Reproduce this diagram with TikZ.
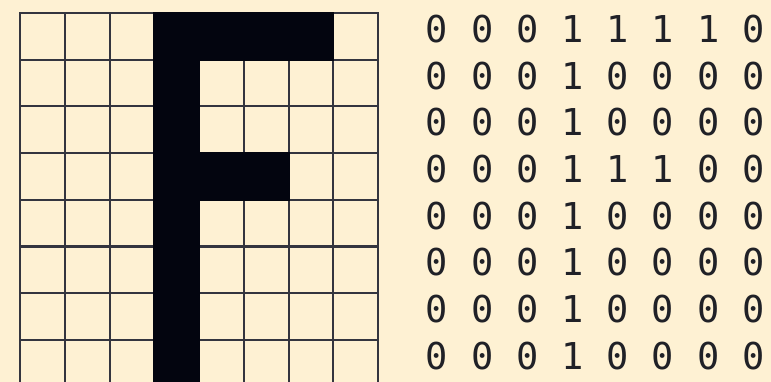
\documentclass[tikz,border=0pt]{standalone}
\usepackage{fontspec}
\setmonofont[RawFeature=+zero]{DejaVu Sans Mono}
\definecolor{paperBg}{HTML}{FEF1D3}
\definecolor{inkBlack}{HTML}{03050F}
\definecolor{gridGray}{HTML}{34353F}
\definecolor{digitInk}{HTML}{202127}

\begin{document}
\begin{tikzpicture}[
  x=1pt, y=-1pt,
  gridline/.style={draw=gridGray, line width=2pt, line cap=rect},
  pixel/.style={fill=inkBlack},
  bit/.style={font=\ttfamily\fontsize{37}{40}\selectfont, text=digitInk, inner sep=0pt, anchor=center},
]

% ===== Paper ================================================================
\fill[paperBg] (0,0) rectangle (771,382);
\useasboundingbox (0,0) rectangle (771,382);

% ===== 8x8 grid =============================================================
\foreach \k in {0,...,8} {
  \draw[gridline] ({20+44.75*\k},13) -- ({20+44.75*\k},392);
  \draw[gridline] (20,{13+46.7*\k}) -- (378,{13+46.7*\k});
}

% ===== Pixels and bit matrix ================================================
\foreach \row [count=\i from 0] in {{0,0,0,1,1,1,1,0},{0,0,0,1,0,0,0,0},
                                    {0,0,0,1,0,0,0,0},{0,0,0,1,1,1,0,0},
                                    {0,0,0,1,0,0,0,0},{0,0,0,1,0,0,0,0},
                                    {0,0,0,1,0,0,0,0},{0,0,0,1,0,0,0,0}} {
  \foreach \b [count=\j from 0] in \row {
    \ifnum\b=1
      \fill[pixel] ({20+44.75*\j-1},{13+46.7*\i-1})
        rectangle ({20+44.75*(\j+1)+1},{13+46.7*(\i+1)+1});
    \fi
    \node[bit] (bit-\i-\j) at ({437+45.2*\j},{29+46.7*\i}) {\b};
  }
}

\end{tikzpicture}
\end{document}
